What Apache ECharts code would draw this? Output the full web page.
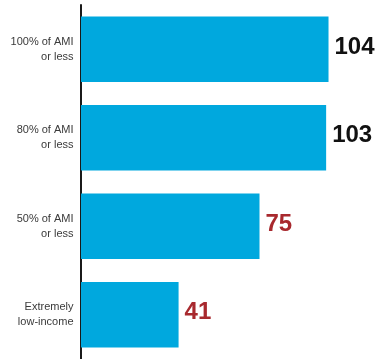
<!DOCTYPE html>
<html>
<head>
<meta charset="utf-8">
<script src="https://cdn.jsdelivr.net/npm/echarts@6/dist/echarts.min.js"></script>
<style>
  html, body { margin: 0; padding: 0; background: #fff; }
  #chart { width: 377px; height: 359px; }
</style>
</head>
<body>
<div id="chart"></div>
<script>
// Income tiers (top to bottom) and the count for each
const categories = ["100% of AMI\nor less", "80% of AMI\nor less", "50% of AMI\nor less", "Extremely\nlow-income"];
const values = [104, 103, 75, 41];
const labelColors = ["#111111", "#111111", "#a8292e", "#a8292e"];

const chart = echarts.init(document.getElementById('chart'), null, { renderer: 'canvas' });

chart.setOption({
  animation: false,
  grid: { left: 81, top: 5, width: 285.6, height: 354, containLabel: false },
  xAxis: {
    type: 'value',
    min: 0,
    max: 120,
    show: false
  },
  yAxis: {
    type: 'category',
    data: categories,
    inverse: true,
    offset: 1.5,
    axisLine: { show: true, lineStyle: { color: '#000', width: 1.8 } },
    axisTick: { show: false },
    axisLabel: {
      margin: 6,
      color: '#3a3a3a',
      fontFamily: 'Liberation Sans, Arial, sans-serif',
      fontSize: 11,
      lineHeight: 15,
      align: 'right'
    }
  },
  series: [{
    type: 'bar',
    data: values.map((v, i) => ({
      value: v,
      label: { color: labelColors[i] }
    })),
    barCategoryGap: '26%',
    itemStyle: { color: '#00a8de' },
    label: {
      show: true,
      position: 'right',
      distance: 6,
      offset: [0, -2],
      fontFamily: 'Liberation Sans, Arial, sans-serif',
      fontWeight: 'bold',
      fontSize: 24
    }
  }]
});
</script>
</body>
</html>
